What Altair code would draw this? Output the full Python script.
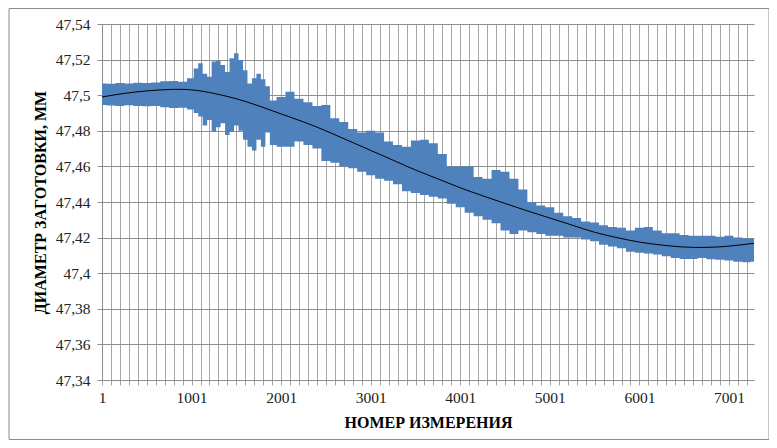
import altair as alt
import pandas as pd

meas_x = [1, 100, 200, 300, 400, 500, 600, 700, 800, 900, 1000, 1050, 1100, 1150, 1200,
          1250, 1300, 1350, 1400, 1450, 1500, 1550, 1600, 1650, 1700, 1750, 1800, 1850,
          1900, 2000, 2100, 2200, 2300, 2400, 2500, 2600, 2700, 2800, 2900, 3000, 3100,
          3200, 3300, 3400, 3500, 3600, 3700, 3800, 3900, 4000, 4100, 4200, 4300, 4400,
          4500, 4600, 4700, 4800, 4900, 5000, 5100, 5200, 5300, 5400, 5500, 5600, 5700,
          5800, 5900, 6000, 6100, 6200, 6300, 6400, 6500, 6600, 6700, 6800, 6900, 7000,
          7100, 7200, 7280]
meas_hi = [47.5066, 47.5064, 47.5068, 47.5066, 47.5070, 47.5068, 47.5072, 47.5078, 47.5080,
           47.5076, 47.5095, 47.5150, 47.5180, 47.5120, 47.5104, 47.5190, 47.5194, 47.5170,
           47.5130, 47.5207, 47.5235, 47.5198, 47.5140, 47.5066, 47.5095, 47.5120, 47.5090,
           47.5050, 47.4970, 47.4990, 47.5020, 47.4980, 47.4960, 47.4940, 47.4945, 47.4870,
           47.4850, 47.4810, 47.4790, 47.4800, 47.4790, 47.4740, 47.4720, 47.4710, 47.4745,
           47.4750, 47.4730, 47.4670, 47.4600, 47.4600, 47.4600, 47.4540, 47.4530, 47.4580,
           47.4570, 47.4530, 47.4470, 47.4400, 47.4380, 47.4370, 47.4340, 47.4320, 47.4310,
           47.4290, 47.4285, 47.4270, 47.4260, 47.4255, 47.4240, 47.4255, 47.4260, 47.4240,
           47.4225, 47.4225, 47.4215, 47.4210, 47.4210, 47.4210, 47.4205, 47.4210, 47.4200,
           47.4195, 47.4195]
meas_lo = [47.4945, 47.4942, 47.4940, 47.4944, 47.4940, 47.4938, 47.4940, 47.4932, 47.4928,
           47.4930, 47.4920, 47.4900, 47.4880, 47.4830, 47.4860, 47.4795, 47.4820, 47.4842,
           47.4776, 47.4795, 47.4830, 47.4800, 47.4750, 47.4710, 47.4690, 47.4750, 47.4710,
           47.4790, 47.4720, 47.4710, 47.4710, 47.4740, 47.4720, 47.4700, 47.4630, 47.4620,
           47.4600, 47.4590, 47.4570, 47.4550, 47.4530, 47.4520, 47.4500, 47.4460, 47.4450,
           47.4440, 47.4430, 47.4420, 47.4390, 47.4370, 47.4340, 47.4320, 47.4300, 47.4280,
           47.4240, 47.4220, 47.4240, 47.4230, 47.4220, 47.4210, 47.4210, 47.4200, 47.4200,
           47.4190, 47.4180, 47.4160, 47.4150, 47.4140, 47.4120, 47.4115, 47.4110, 47.4105,
           47.4095, 47.4085, 47.4080, 47.4080, 47.4085, 47.4078, 47.4075, 47.4072, 47.4065,
           47.4062, 47.4065]

# Trend line
trend_x = [1, 250, 500, 750, 1000, 1250, 1500, 1750, 2000, 2250, 2500, 2750, 3000, 3250,
           3500, 3750, 4000, 4250, 4500, 4750, 5000, 5250, 5500, 5750, 6000, 6250, 6500,
           6750, 7000, 7280]
trend_y = [47.4990, 47.5010, 47.5024, 47.5032, 47.5030, 47.5010, 47.4980, 47.4940, 47.4895,
           47.4850, 47.4800, 47.4745, 47.4690, 47.4635, 47.4580, 47.4530, 47.4480, 47.4435,
           47.4392, 47.4350, 47.4310, 47.4270, 47.4230, 47.4200, 47.4175, 47.4158, 47.4147,
           47.4145, 47.4152, 47.4168]

x_ticks = list(range(1, 7281, 100))
y_ticks = [47.34, 47.36, 47.38, 47.40, 47.42, 47.44, 47.46, 47.48, 47.50, 47.52, 47.54]

band = pd.DataFrame({"x": meas_x, "hi": meas_hi, "lo": meas_lo})
trend = pd.DataFrame({"x": trend_x, "y": trend_y})

FONT = "'Liberation Serif', 'Times New Roman', Times, 'DejaVu Serif', serif"
xs = alt.Scale(domain=[1, 7280], nice=False, zero=False)
ys = alt.Scale(domain=[47.34, 47.54], nice=False, zero=False)

x_axis = alt.Axis(
    values=x_ticks, tickCount=200, format="d",
    labelExpr="(datum.value - 1) % 1000 == 0 ? datum.label : ''",
    grid=True, gridColor="#a6a6a6", tickColor="#a6a6a6", tickSize=5,
    domainColor="#8c8c8c", labelFont=FONT, labelFontSize=15.5, labelColor="#222",
    labelPadding=5, labelFlush=False, labelOverlap=False,
    title="НОМЕР ИЗМЕРЕНИЯ", titleFont=FONT, titleFontSize=16, titleFontWeight="bold",
    titleColor="#000", titleX=326, titleY=47, titleBaseline="alphabetic", titleAlign="center",
)
y_axis = alt.Axis(
    values=y_ticks, tickCount=50,
    labelExpr="replace(format(datum.value, '.2~f'), '.', ',')",
    grid=True, gridColor="#8c8c8c", tickColor="#8c8c8c", tickSize=5,
    domainColor="#8c8c8c", labelFont=FONT, labelFontSize=15.5, labelColor="#222",
    labelPadding=7, labelBaseline="middle", labelOverlap=False,
    title="ДИАМЕТР ЗАГОТОВКИ, ММ", titleFont=FONT, titleFontSize=16, titleFontWeight="bold",
    titleColor="#000", titleAngle=270, titleX=-57, titleY=178, titleBaseline="alphabetic",
    titleAlign="center",
)

area = alt.Chart(band).mark_area(color="#4F81BD", interpolate="step", opacity=1).encode(
    x=alt.X("x:Q", scale=xs, axis=x_axis),
    y=alt.Y("hi:Q", scale=ys, axis=y_axis),
    y2="lo:Q",
)
line = alt.Chart(trend).mark_line(color="#000000", strokeWidth=1, interpolate="natural").encode(
    x=alt.X("x:Q", scale=xs),
    y=alt.Y("y:Q", scale=ys),
)
border = alt.Chart(alt.Data(values=[{}])).mark_rect(
    filled=False, stroke="#8c8c8c", strokeWidth=1, clip=False
).encode(x=alt.value(-93), x2=alt.value(667), y=alt.value(-15.5), y2=alt.value(415.5))

chart = alt.layer(area, line, border).properties(
    width=652, height=356,
    autosize=alt.AutoSizeParams(type="none"),
    padding={"left": 94, "top": 16, "right": 15, "bottom": 60},
).configure_view(stroke=None)

chart.save("out.html", embed_options={"renderer": "svg", "actions": False})
